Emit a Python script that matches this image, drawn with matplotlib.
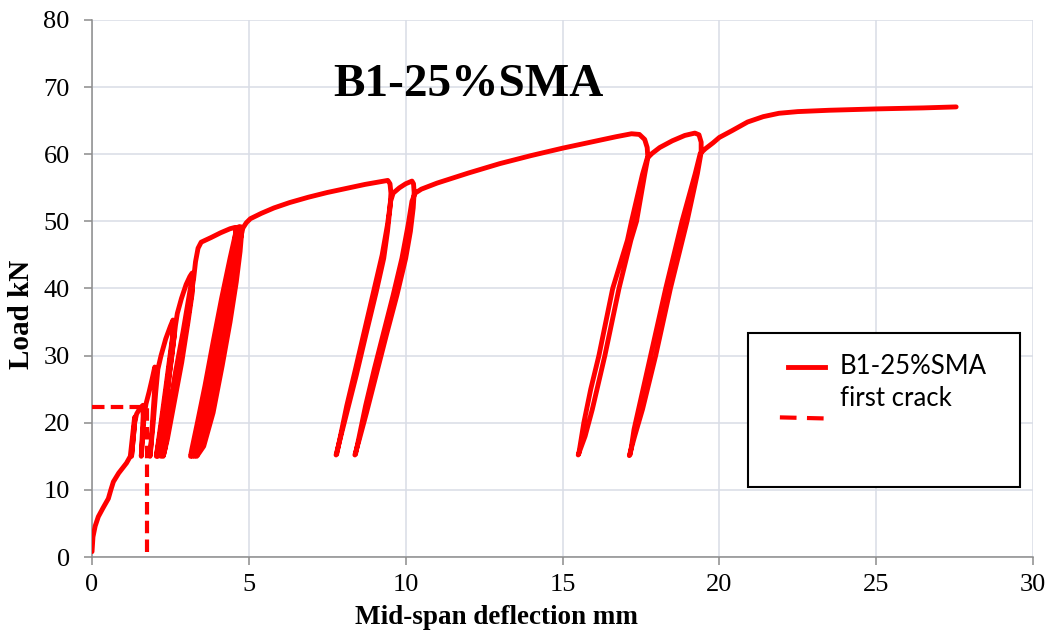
import matplotlib
matplotlib.use("Agg")
import matplotlib.pyplot as plt
from matplotlib.patches import Rectangle

# %% Data
# loading up to 49 kN, with the small unload/reload cycles
early_defl = [
    0.0, 0.03, 0.1, 0.2, 0.35, 0.52, 0.6, 0.68, 0.85, 1.1, 1.22,
    1.28, 1.35, 1.37,
    1.34, 1.29, 1.26,
    1.3, 1.36, 1.42, 1.52, 1.62,
    1.63, 1.6, 1.57,
    1.6, 1.66, 1.72, 1.82, 1.92, 2.0,
    2.02, 1.99, 1.94, 1.89, 1.85,
    1.88, 1.95, 2.03, 2.1, 2.2, 2.35, 2.5, 2.58,
    2.6, 2.56, 2.44, 2.3, 2.16, 2.05,
    2.08, 2.2, 2.36, 2.5, 2.6, 2.63,
    2.62, 2.5, 2.35, 2.2, 2.1,
    2.14, 2.26, 2.42, 2.56, 2.66, 2.72, 2.85, 3.0, 3.12, 3.19,
    3.21, 3.15, 3.0, 2.8, 2.56, 2.34, 2.2,
    2.24, 2.42, 2.66, 2.9, 3.08, 3.2,
    3.2, 3.06, 2.86, 2.62, 2.4, 2.27,
    2.32, 2.5, 2.74, 2.96, 3.14, 3.24, 3.3, 3.38, 3.48, 3.8, 4.1, 4.4, 4.56,
    4.58, 4.53, 4.4, 4.2, 3.95, 3.66, 3.36, 3.14,
    3.18, 3.36, 3.6, 3.86, 4.13, 4.4, 4.57, 4.62,
    4.65, 4.6, 4.48, 4.28, 4.03, 3.74, 3.44, 3.2,
    3.24, 3.42, 3.66, 3.92, 4.19, 4.46, 4.63, 4.68,
    4.71, 4.66, 4.54, 4.34, 4.09, 3.8, 3.5, 3.27,
    3.31, 3.49, 3.73, 3.99, 4.26, 4.53, 4.7, 4.74,
    4.77, 4.72, 4.6, 4.4, 4.15, 3.86, 3.56, 3.34,
    3.38, 3.56, 3.8, 4.06, 4.33, 4.6, 4.76, 4.81, 4.92, 5.05, 5.4, 5.8,
    6.3, 6.9, 7.5, 8.1, 8.7, 9.2, 9.43,
]
early_load = [
    0.8, 3.0, 4.6, 6.0, 7.3, 8.7, 10.0, 11.2, 12.5, 14.0, 15.0,
    17.5, 20.5, 20.9,
    19.0, 16.5, 15.0,
    17.0, 20.0, 21.3, 22.1, 22.6,
    21.0, 18.0, 15.0,
    17.0, 21.0, 22.8, 24.6, 26.6, 28.3,
    27.5, 24.5, 21.0, 17.5, 15.0,
    16.5, 20.0, 24.5, 28.0, 30.0, 32.5, 34.4, 35.3,
    34.5, 32.0, 27.5, 22.5, 18.0, 15.0,
    16.0, 20.0, 25.5, 30.5, 34.0, 35.0,
    33.0, 28.5, 23.0, 18.0, 15.0,
    16.0, 20.0, 25.5, 30.5, 34.5, 36.3, 38.5, 40.6, 41.8, 42.3,
    41.3, 38.5, 34.0, 28.5, 22.5, 17.0, 15.0,
    16.0, 21.0, 27.5, 33.5, 38.5, 41.8,
    39.5, 35.0, 29.0, 23.0, 17.5, 15.0,
    16.0, 21.0, 27.5, 33.5, 38.5, 41.5, 44.0, 46.0, 46.9, 47.6, 48.3, 48.9, 49.1,
    48.5, 45.5, 41.0, 35.0, 28.5, 21.5, 16.5, 15.0,
    16.0, 20.0, 25.5, 32.0, 38.5, 44.5, 48.0, 49.1,
    48.3, 45.5, 41.0, 35.0, 28.5, 21.5, 16.5, 15.0,
    16.0, 20.0, 25.5, 32.0, 38.5, 44.5, 48.0, 49.2,
    48.3, 45.5, 41.0, 35.0, 28.5, 21.5, 16.5, 15.0,
    16.0, 20.0, 25.5, 32.0, 38.5, 44.5, 48.0, 49.2,
    48.3, 45.5, 41.0, 35.0, 28.5, 21.5, 16.5, 15.0,
    16.0, 20.0, 25.5, 32.0, 38.5, 44.5, 48.0, 49.0, 49.8, 50.4, 51.2, 52.0,
    52.8, 53.6, 54.3, 54.9, 55.5, 55.9, 56.1,
]

# the two cycles at 56 kN
mid_defl = [
    9.5, 9.53, 9.5, 9.42, 9.3, 9.06, 8.75, 8.42, 8.12, 7.9, 7.78,
    7.8, 7.92, 8.12, 8.4, 8.7, 9.0, 9.25, 9.42, 9.52, 9.6, 9.8, 10.0, 10.2,
    10.25, 10.27, 10.24, 10.15, 10.0, 9.72, 9.38, 9.05, 8.75, 8.52, 8.38,
    8.4, 8.52, 8.72, 9.0, 9.3, 9.6, 9.88, 10.08, 10.2, 10.3, 10.5, 11.0,
    12.0, 13.0, 14.0, 15.0, 16.0, 16.7, 17.2,
]
mid_load = [
    55.6, 54.2, 52.0, 48.5, 44.5, 39.5, 33.5, 27.0, 21.5, 17.5, 15.2,
    15.3, 18.0, 22.5, 28.0, 34.0, 40.0, 45.0, 49.5, 53.0, 54.2, 55.0, 55.6, 56.0,
    55.6, 54.3, 52.0, 48.5, 44.5, 39.0, 33.0, 27.0, 21.5, 17.5, 15.2,
    15.3, 18.0, 22.5, 28.0, 33.5, 39.0, 44.5, 49.5, 53.0, 54.2, 54.8, 55.7,
    57.2, 58.6, 59.8, 60.9, 61.9, 62.6, 63.05,
]

# the two cycles at 63 kN and the final loading
late_defl = [
    17.45, 17.62, 17.7, 17.72, 17.62, 17.36, 17.18, 16.8, 16.35, 15.95, 15.72, 15.5,
    15.52, 15.68, 15.9, 16.16, 16.6, 17.07, 17.2, 17.55, 17.7, 17.85, 18.1, 18.5,
    18.9, 19.22,
    19.35, 19.42, 19.42, 19.3, 18.97, 18.44, 17.97, 17.55, 17.3, 17.13,
    17.16, 17.28, 17.52, 17.81, 18.29, 18.81, 19.23, 19.39, 19.55, 19.8, 20.0,
    20.4, 20.9, 21.4, 21.9, 22.5, 23.5, 25.0, 26.5, 27.55,
]
late_load = [
    62.95, 62.2, 61.0, 59.5, 57.0, 50.0, 47.2, 40.0, 30.0, 22.0, 18.0, 15.2,
    15.4, 20.0, 25.0, 30.0, 40.0, 47.2, 50.0, 57.0, 59.4, 60.1, 61.0, 62.0,
    62.8, 63.15,
    62.9, 61.8, 60.3, 57.1, 50.0, 40.0, 30.0, 22.0, 18.0, 15.1,
    15.3, 19.0, 24.0, 30.0, 40.0, 50.0, 57.1, 60.1, 60.8, 61.7, 62.5,
    63.5, 64.8, 65.6, 66.1, 66.35, 66.55, 66.75, 66.9, 67.05,
]

crack_defl = 1.75
crack_load = 22.3

defl = early_defl + mid_defl + late_defl
load = early_load + mid_load + late_load

# %% Plot
serif = "Liberation Serif"
red = "#ff0000"

fig = plt.figure(figsize=(10.53, 6.36), dpi=100)
ax = fig.add_axes([0.0874, 0.1242, 0.8936, 0.8444])

ax.plot([0, crack_defl, crack_defl], [crack_load, crack_load, 0],
        color=red, lw=3.0, dashes=(3.0, 1.5), zorder=3)
ax.plot(defl, load, color=red, lw=3.5, solid_joinstyle="round",
        solid_capstyle="round", zorder=4)

ax.set_xlim(0, 30)
ax.set_ylim(0, 80)
ax.set_xticks(range(0, 31, 5))
ax.set_yticks(range(0, 81, 10))
ax.grid(color="#d9dde6", lw=1.1)
ax.set_axisbelow(True)
for s in ["top", "right"]:
    ax.spines[s].set_visible(False)
for s in ["left", "bottom"]:
    ax.spines[s].set_color("#8c8c8c")
    ax.spines[s].set_linewidth(1.1)
ax.tick_params(axis="both", direction="out", length=6, color="#8c8c8c",
               labelsize=19, width=1.1)
ax.tick_params(axis="y", pad=10)
ax.tick_params(axis="x", pad=6)
for lab in ax.get_xticklabels() + ax.get_yticklabels():
    lab.set_family(serif)

ax.set_xlabel("Mid-span deflection mm", family=serif, fontsize=19.5,
              fontweight="bold", va="center")
ax.xaxis.set_label_coords(0.430, -0.112)
ax.set_ylabel("Load kN", family=serif, fontsize=21, fontweight="bold",
              va="center")
ax.yaxis.set_label_coords(-0.075, 0.451)

ax.text(0.3996, 0.879, "B1-25%SMA", transform=ax.transAxes, family=serif,
        fontsize=34, fontweight="bold", ha="center", va="center")

# legend drawn by hand (Excel style box)
ax.add_patch(Rectangle((0.697, 0.130), 0.289, 0.287, transform=ax.transAxes,
                       facecolor="white", edgecolor="black", lw=1.5,
                       zorder=5))
ax.plot([0.74, 0.779], [0.354, 0.354], transform=ax.transAxes, color=red,
        lw=3.5, zorder=6)
ax.plot([0.731, 0.779], [0.260, 0.258], transform=ax.transAxes, color=red,
        lw=3.0, dashes=(4.0, 2.5), zorder=6)
ax.text(0.795, 0.354, "B1-25%SMA", transform=ax.transAxes, family="Lato",
        fontsize=18.5, va="center", ha="left", zorder=6)
ax.text(0.795, 0.296, "first crack", transform=ax.transAxes, family="Lato",
        fontsize=18.5, va="center", ha="left", zorder=6)

fig.savefig("out.png", dpi=100)
